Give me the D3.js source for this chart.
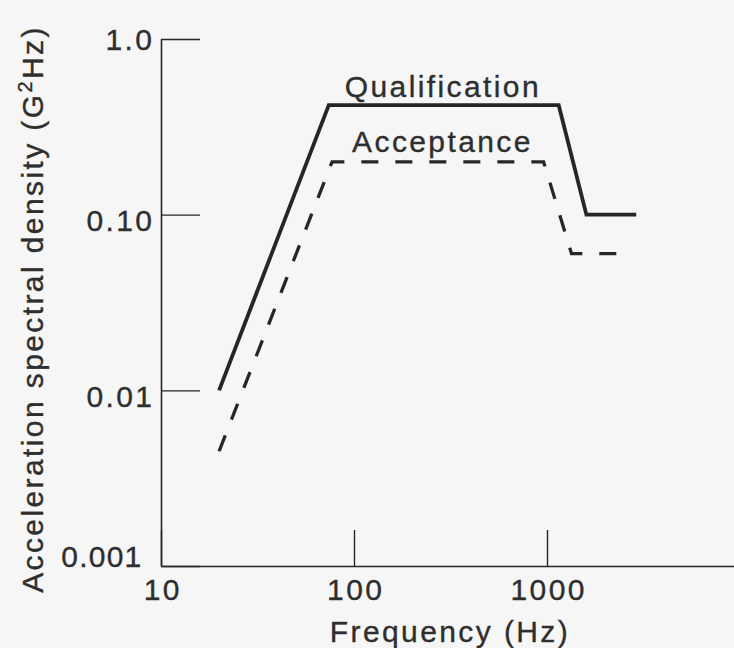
<!DOCTYPE html>
<html>
<head>
<meta charset="utf-8">
<script src="https://cdn.jsdelivr.net/npm/d3@7"></script>
<style>
  body { margin: 0; background: #f6f6f6; }
  text { font-family: "Liberation Sans", Arial, sans-serif; fill: #2e2e2e; letter-spacing: 2.4px;
         stroke: #2e2e2e; stroke-width: 0.35px; }
</style>
</head>
<body>
<div id="chart"></div>
<script>
// test spectra (Hz, G^2/Hz)
var freqQual = [20, 74, 1150, 1600, 2900];
var psdQual = [0.01, 0.42, 0.42, 0.1, 0.1];
var freqAccept = [20, 77, 960, 1340, 2450];
var psdAccept = [0.0045, 0.2, 0.2, 0.06, 0.06];

var xTicks = [10, 100, 1000];
var xTickLabels = ["10", "100", "1000"];
var yTicks = [0.001, 0.01, 0.1, 1];
var yTickLabels = ["0.001", "0.01", "0.10", "1.0"];
var seriesNames = ["Qualification", "Acceptance"];

var W = 734, H = 648;
var ink = "#262626";

var svg = d3.select("#chart")
  .append("svg")
  .attr("width", W)
  .attr("height", H);

var x = d3.scaleLog().domain([10, 10000]).range([161, 740]);
var y = d3.scaleLog().domain([0.001, 1]).range([566, 39]);

// x axis, ticks pointing up into the plot
var gx = svg.append("g")
  .attr("transform", "translate(0,566)")
  .call(d3.axisBottom(x)
    .tickValues(xTicks)
    .tickSizeInner(-36)
    .tickSizeOuter(0)
    .tickFormat(function (d, i) { return xTickLabels[i]; }));
gx.select(".domain").attr("stroke", ink).attr("stroke-width", 1.6);
gx.selectAll(".tick line").attr("stroke", ink).attr("stroke-width", 1.4);
gx.selectAll(".tick text")
  .attr("y", 34)
  .attr("dy", 0)
  .attr("dx", 1.2)
  .attr("fill", "#2e2e2e")
  .style("font-size", "30px");

// y axis, ticks pointing right
var gy = svg.append("g")
  .attr("transform", "translate(161,0)")
  .call(d3.axisLeft(y)
    .tickValues(yTicks)
    .tickSizeInner(-39)
    .tickSizeOuter(0)
    .tickFormat(function (d, i) { return yTickLabels[i]; }));
gy.select(".domain").attr("stroke", ink).attr("stroke-width", 1.6);
gy.selectAll(".tick line").attr("stroke", ink).attr("stroke-width", 1.4);
gy.selectAll(".tick text")
  .attr("fill", "#2e2e2e")
  .style("font-size", "30px")
  .attr("dy", 0)
  .attr("x", function (d, i) { return i === 0 ? -18.6 : -6.6; })
  .style("letter-spacing", function (d, i) { return i === 0 ? "1.2px" : null; })
  .attr("y", function (d, i) {
    if (i === 0) return 0;        // lowest label sits on the x axis
    if (i === yTicks.length - 1) return 10;
    return 16;
  });

// axis titles
svg.append("text")
  .attr("x", 450)
  .attr("y", 642)
  .attr("text-anchor", "middle")
  .style("font-size", "30px")
  .text("Frequency (Hz)");

var yt = svg.append("text")
  .attr("transform", "translate(43,309) rotate(-90)")
  .attr("text-anchor", "middle")
  .style("font-size", "30px");
yt.append("tspan").text("Acceleration spectral density (G");
yt.append("tspan").text("2").style("font-size", "20px").attr("dy", -11);
yt.append("tspan").text("Hz)").attr("dy", 11);

// spectra
var line = d3.line()
  .x(function (d) { return x(d[0]); })
  .y(function (d) { return y(d[1]); });

svg.append("path")
  .datum(d3.zip(freqQual, psdQual))
  .attr("d", line)
  .attr("fill", "none")
  .attr("stroke", ink)
  .attr("stroke-width", 3.8)
  .attr("stroke-linejoin", "miter");

svg.append("path")
  .datum(d3.zip(freqAccept, psdAccept))
  .attr("d", line)
  .attr("fill", "none")
  .attr("stroke", ink)
  .attr("stroke-width", 3.3)
  .attr("stroke-dasharray", "17,17")
  .attr("stroke-linejoin", "miter");

// curve labels
svg.append("text")
  .attr("x", x(freqQual[1]) + 16)
  .attr("y", y(psdQual[1]) - 8.5)
  .style("font-size", "30px")
  .text(seriesNames[0]);

svg.append("text")
  .attr("x", x(freqAccept[1]) + 20)
  .attr("y", y(psdAccept[1]) - 10)
  .style("font-size", "30px")
  .text(seriesNames[1]);
</script>
</body>
</html>
